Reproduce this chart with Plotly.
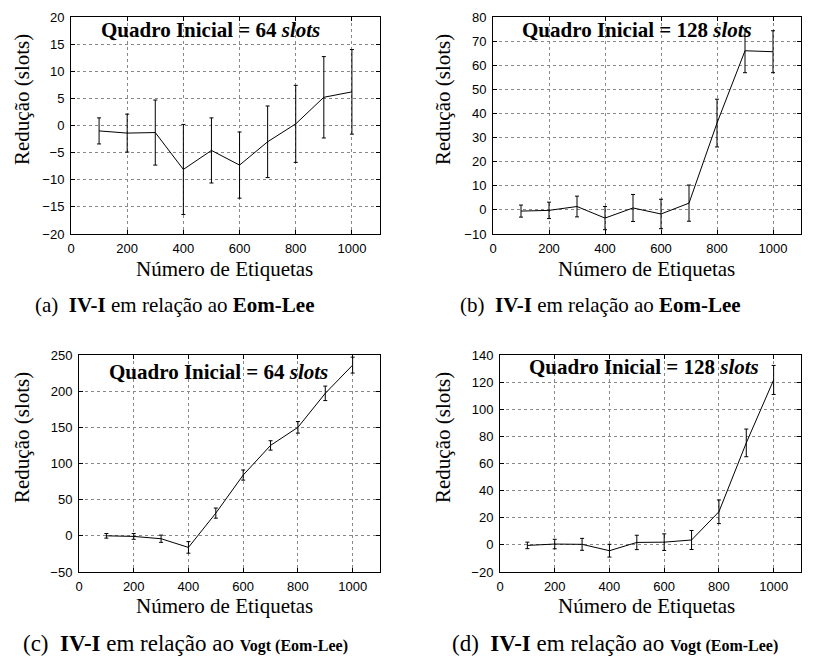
import plotly.graph_objects as go

x_etiquetas = [100, 200, 300, 400, 500, 600, 700, 800, 900, 1000]

# (a) IV-I vs Eom-Lee, initial frame 64 slots
red_a = [-1.0, -1.4, -1.3, -8.1, -4.6, -7.3, -3.0, 0.3, 5.2, 6.2]
err_a = [2.4, 3.5, 6.0, 8.3, 6.0, 6.1, 6.6, 7.1, 7.5, 7.8]
# (b) IV-I vs Eom-Lee, initial frame 128 slots
red_b = [-0.5, -0.2, 1.4, -3.4, 0.8, -1.7, 2.8, 36.0, 66.0, 65.6]
err_b = [2.5, 3.4, 4.3, 4.8, 5.6, 6.1, 7.5, 9.9, 9.1, 8.7]
# (c) IV-I vs Vogt (Eom-Lee), initial frame 64 slots
red_c = [0.0, -0.8, -4.0, -16.0, 31.4, 84.0, 125.0, 150.0, 197.0, 236.0]
err_c = [3.2, 4.0, 5.0, 8.0, 7.0, 7.0, 6.5, 8.0, 10.0, 11.0]
# (d) IV-I vs Vogt (Eom-Lee), initial frame 128 slots
red_d = [-0.4, 0.6, 0.4, -4.3, 1.8, 2.0, 3.6, 24.4, 75.2, 121.6]
err_d = [2.4, 3.5, 4.4, 4.7, 5.3, 6.1, 7.0, 8.7, 10.2, 10.7]

x_ticks = [0, 200, 400, 600, 800, 1000]
y_ranges = [[-20, 20], [-10, 80], [-50, 250], [-20, 140]]
y_dticks = [5, 10, 50, 20]
anot_text = ["Quadro Inicial = 64 <i>slots</i>", "Quadro Inicial = 128 <i>slots</i>",
             "Quadro Inicial = 64 <i>slots</i>", "Quadro Inicial = 128 <i>slots</i>"]
captions = ["(a)  <b>IV-I</b> em relação ao <b>Eom-Lee</b>",
            "(b)  <b>IV-I</b> em relação ao <b>Eom-Lee</b>",
            "(c)  <b>IV-I</b> em relação ao <b><span style='font-size:16px'>Vogt (Eom-Lee)</span></b>",
            "(d)  <b>IV-I</b> em relação ao <b><span style='font-size:16px'>Vogt (Eom-Lee)</span></b>"]

PAGE_W, PAGE_H = 821, 659
OFF = 8  # default body margin of the html page
W, H = PAGE_W - OFF, PAGE_H - OFF


def px(x):
    return (x - OFF) / W


def py(y):
    return 1 - (y - OFF) / H


# plot-area boxes in page pixels: (x0, x1, y_top, y_bottom)
boxes = [(71, 380, 17, 234), (493, 801, 17, 234), (79, 380, 355, 572), (500, 801, 355, 572)]

series = [(red_a, err_a), (red_b, err_b), (red_c, err_c), (red_d, err_d)]

fig = go.Figure()
serif = "Liberation Serif, Times New Roman, Times, serif"
sans = "Liberation Sans, Arial, Helvetica, sans-serif"

for i, ((yv, ev), box) in enumerate(zip(series, boxes)):
    n = "" if i == 0 else str(i + 1)
    fig.add_trace(go.Scatter(
        x=x_etiquetas, y=yv, mode="lines",
        line=dict(color="black", width=1),
        error_y=dict(type="data", array=ev, visible=True, color="black", thickness=1, width=2),
        xaxis="x" + n, yaxis="y" + n, showlegend=False, hoverinfo="x+y"))
    x0, x1, yt, yb = box
    axis_common = dict(showline=True, linecolor="black", linewidth=1, mirror="ticks",
                       ticks="inside", ticklen=4, tickcolor="black", automargin=False,
                       showgrid=True, gridcolor="#888888", griddash="dot", gridwidth=1,
                       zeroline=False, tickfont=dict(family=sans, size=13, color="black"))
    fig.update_layout(**{
        "xaxis" + n: dict(domain=[px(x0), px(x1)], range=[0, 1100], tickvals=x_ticks,
                          anchor="y" + n, ticklabelstandoff=2, **axis_common),
        "yaxis" + n: dict(domain=[py(yb), py(yt)], range=y_ranges[i], dtick=y_dticks[i],
                          anchor="x" + n, ticklabelstandoff=3, **axis_common),
    })

# panel annotations (inside plots)
anot_pos = [(210, 30), (637, 30), (218, 372), (644, 367)]
for t, (ax, ay) in zip(anot_text, anot_pos):
    fig.add_annotation(x=px(ax), y=py(ay), xref="paper", yref="paper", text="<b>" + t + "</b>",
                       showarrow=False, font=dict(family=serif, size=21, color="black"),
                       xanchor="center", yanchor="middle")

# axis titles
xt_pos = [(224, 269), (646, 269), (224, 606), (646, 606)]
for (ax, ay) in xt_pos:
    fig.add_annotation(x=px(ax), y=py(ay), xref="paper", yref="paper", text="Número de Etiquetas",
                       showarrow=False, font=dict(family=serif, size=21, color="black"),
                       xanchor="center", yanchor="middle")
yt_pos = [(22, 100), (443, 100), (22, 438), (443, 438)]
for (ax, ay) in yt_pos:
    fig.add_annotation(x=px(ax), y=py(ay), xref="paper", yref="paper", text="Redução (slots)",
                       showarrow=False, textangle=-90, font=dict(family=serif, size=21, color="black"),
                       xanchor="center", yanchor="middle")

# captions
cap_pos = [(175, 305), (600, 305), (185, 643), (615, 643)]
cap_size = [21, 21, 23, 23]
for t, (ax, ay), fs in zip(captions, cap_pos, cap_size):
    fig.add_annotation(x=px(ax), y=py(ay), xref="paper", yref="paper", text=t,
                       showarrow=False, font=dict(family=serif, size=fs, color="black"),
                       xanchor="center", yanchor="middle")

fig.update_layout(width=W, height=H, margin=dict(l=0, r=0, t=0, b=0),
                  paper_bgcolor="white", plot_bgcolor="white")

fig.write_html("out.html")
